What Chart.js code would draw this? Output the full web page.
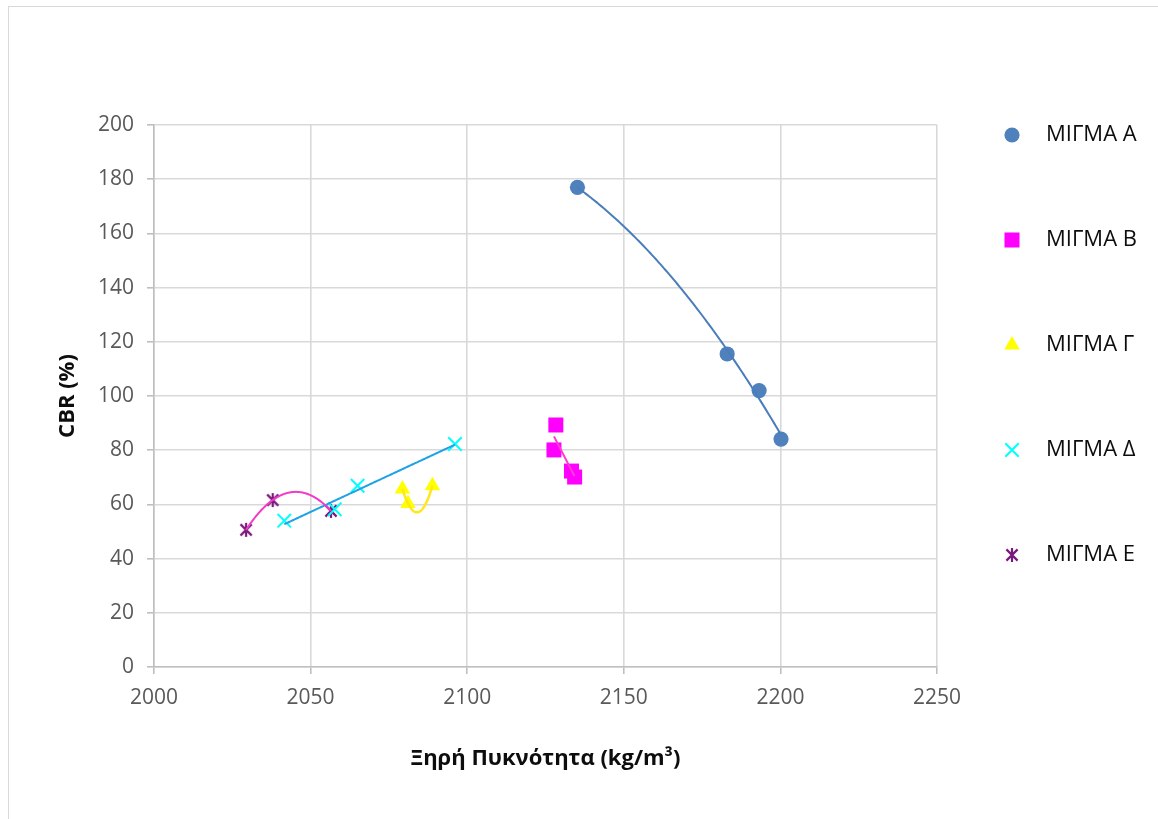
<!DOCTYPE html>
<html>
<head>
<meta charset="utf-8">
<title>CBR – Ξηρή Πυκνότητα</title>
<script src="https://cdn.jsdelivr.net/npm/chart.js@4/dist/chart.umd.min.js"></script>
<style>
  html, body { margin: 0; padding: 0; background: #ffffff; overflow: hidden; }
  #wrap { position: relative; width: 1158px; height: 819px; }
  #frame { position: absolute; left: 8px; top: 6px; width: 1200px; height: 900px;
           border: 1.5px solid #D9D9D9; box-sizing: border-box; }
  #c { position: absolute; left: 0; top: 0; }
</style>
</head>
<body>
<div id="wrap">
  <div id="frame"></div>
  <canvas id="c" width="1158" height="819"></canvas>
</div>
<script>
// ---- data -------------------------------------------------------------
const seriesNames = ['ΜΙΓΜΑ Α', 'ΜΙΓΜΑ Β', 'ΜΙΓΜΑ Γ', 'ΜΙΓΜΑ Δ', 'ΜΙΓΜΑ Ε'];

const densityA = [2135.2, 2183.0, 2193.2, 2200.2];
const cbrA     = [177.0, 115.5, 102.0, 84.1];

const densityB = [2128.3, 2127.7, 2133.3, 2134.3];
const cbrB     = [89.3, 80.1, 72.3, 70.1];

const densityG = [2079.3, 2081.1, 2088.9];
const cbrG     = [65.7, 60.3, 66.9];

const densityD = [2041.6, 2057.7, 2065.0, 2096.1];
const cbrD     = [54.0, 58.2, 66.9, 82.3];

const densityE = [2029.4, 2037.9, 2056.5];
const cbrE     = [50.6, 61.6, 57.6];

const xTicks = [2000, 2050, 2100, 2150, 2200, 2250];
const yTicks = [0, 20, 40, 60, 80, 100, 120, 140, 160, 180, 200];

// order of the fitted trend curve for each mix (1 = linear, 2 = quadratic)
const trendOrders = [2, 1, 2, 1, 2];

// ---- helpers ----------------------------------------------------------
const FONT = "'Open Sans', 'Noto Sans', 'DejaVu Sans', sans-serif";

function pairs(xs, ys) { return xs.map((x, i) => ({ x: x, y: ys[i] })); }

// "*"-shaped marker: an X with a vertical bar
function asteriskMarker(color, size) {
  const c = document.createElement('canvas');
  c.width = size; c.height = size;
  const g = c.getContext('2d');
  const h = size / 2, d = size / 2 - 2.4, v = size / 2 - 1;
  g.strokeStyle = color; g.lineWidth = 2.2; g.lineCap = 'butt';
  g.beginPath();
  g.moveTo(h - d, h - d); g.lineTo(h + d, h + d);
  g.moveTo(h + d, h - d); g.lineTo(h - d, h + d);
  g.moveTo(h, h - v); g.lineTo(h, h + v);
  g.stroke();
  return c;
}

// least-squares polynomial fit, returns coefficients in powers of (x - x0)
function polyFit(xs, ys, order) {
  const x0 = xs.reduce((a, b) => a + b, 0) / xs.length;
  const n = order + 1;
  const A = Array.from({ length: n }, () => new Array(n + 1).fill(0));
  xs.forEach((xv, k) => {
    const u = xv - x0;
    for (let r = 0; r < n; r++) {
      for (let c = 0; c < n; c++) A[r][c] += Math.pow(u, r + c);
      A[r][n] += ys[k] * Math.pow(u, r);
    }
  });
  for (let i = 0; i < n; i++) {
    let p = i;
    for (let r = i + 1; r < n; r++) if (Math.abs(A[r][i]) > Math.abs(A[p][i])) p = r;
    [A[i], A[p]] = [A[p], A[i]];
    for (let r = 0; r < n; r++) {
      if (r === i) continue;
      const f = A[r][i] / A[i][i];
      for (let c = i; c <= n; c++) A[r][c] -= f * A[i][c];
    }
  }
  const coef = A.map((row, i) => row[n] / row[i]);
  return { x0: x0, coef: coef };
}
function polyEval(fit, xv) {
  const u = xv - fit.x0;
  return fit.coef.reduce((s, c, i) => s + c * Math.pow(u, i), 0);
}

// trend curves drawn over the markers, across each mix's density range
const trendPlugin = {
  id: 'trendCurves',
  afterDatasetsDraw(chart) {
    const { ctx, chartArea, scales } = chart;
    chart.data.datasets.forEach(ds => {
      const t = ds.trend;
      if (!t) return;
      const xs = ds.data.map(p => p.x), ys = ds.data.map(p => p.y);
      const fit = polyFit(xs, ys, t.order);
      const lo = Math.min(...xs), hi = Math.max(...xs);
      const steps = 120;
      ctx.save();
      ctx.beginPath();
      ctx.rect(chartArea.left, chartArea.top, chartArea.width, chartArea.height);
      ctx.clip();
      ctx.beginPath();
      for (let k = 0; k <= steps; k++) {
        const xv = lo + (hi - lo) * k / steps;
        const px = scales.x.getPixelForValue(xv);
        const py = scales.y.getPixelForValue(polyEval(fit, xv));
        if (k === 0) ctx.moveTo(px, py); else ctx.lineTo(px, py);
      }
      ctx.strokeStyle = t.color;
      ctx.lineWidth = t.width;
      ctx.lineJoin = 'round';
      ctx.stroke();
      ctx.restore();
    });
  }
};

// key at the right-hand side: one marker + name per mix
const keyPlugin = {
  id: 'seriesKey',
  afterDraw(chart, args, opts) {
    const ctx = chart.ctx;
    chart.data.datasets.forEach((ds, i) => {
      const y = opts.top + i * opts.gap;
      ctx.save();
      ctx.fillStyle = ds.backgroundColor;
      ctx.strokeStyle = ds.borderColor;
      ctx.lineWidth = ds.borderWidth;
      Chart.helpers.drawPoint(ctx, {
        pointStyle: ds.pointStyle, radius: ds.pointRadius, rotation: 0, borderWidth: ds.borderWidth
      }, opts.markerX, y);
      ctx.fillStyle = opts.color;
      ctx.font = opts.font;
      ctx.textAlign = 'left';
      ctx.textBaseline = 'middle';
      ctx.fillText(ds.label, opts.textX, y);
      ctx.restore();
    });
  }
};

// ---- chart ------------------------------------------------------------
const markerE = asteriskMarker('#7A1A7C', 16);

const datasets = [
  { label: seriesNames[0], data: pairs(densityA, cbrA), pointStyle: 'circle', pointRadius: 7.6,
    backgroundColor: '#4F81BD', borderColor: '#4F81BD', borderWidth: 0,
    trend: { order: trendOrders[0], color: '#4A7EBB', width: 2 } },
  { label: seriesNames[1], data: pairs(densityB, cbrB), pointStyle: 'rect', pointRadius: 10.6,
    backgroundColor: '#FF00FF', borderColor: '#FF00FF', borderWidth: 0,
    trend: { order: trendOrders[1], color: '#FF3BD0', width: 2 } },
  { label: seriesNames[2], data: pairs(densityG, cbrG), pointStyle: 'triangle', pointRadius: 9,
    backgroundColor: '#FFFF00', borderColor: '#FFFF00', borderWidth: 0,
    trend: { order: trendOrders[2], color: '#FFE81A', width: 2.5 } },
  { label: seriesNames[3], data: pairs(densityD, cbrD), pointStyle: 'crossRot', pointRadius: 9.5,
    backgroundColor: '#00FFFF', borderColor: '#00FFFF', borderWidth: 2,
    trend: { order: trendOrders[3], color: '#1EA2E6', width: 2 } },
  { label: seriesNames[4], data: pairs(densityE, cbrE), pointStyle: markerE, pointRadius: 8,
    backgroundColor: '#7A1A7C', borderColor: '#7A1A7C', borderWidth: 0,
    trend: { order: trendOrders[4], color: '#F23CC8', width: 2 } }
];
datasets.forEach(ds => { ds.pointHoverRadius = ds.pointRadius; ds.showLine = false; });

const gridColor = '#D9D9D9';
const tickFont = { family: FONT, size: 21 };
const titleFont = { family: FONT, size: 22, weight: 'bold' };

new Chart(document.getElementById('c'), {
  type: 'scatter',
  data: { datasets: datasets },
  options: {
    responsive: false,
    animation: false,
    events: [],
    layout: { padding: { top: 125, right: 221, bottom: 0, left: 0 } },
    plugins: {
      legend: { display: false },
      tooltip: { enabled: false },
      seriesKey: { markerX: 1012, textX: 1046, top: 135, gap: 105,
                   color: '#0D0D0D', font: "22px " + FONT }
    },
    scales: {
      x: {
        type: 'linear', min: xTicks[0], max: xTicks[xTicks.length - 1],
        afterBuildTicks: s => { s.ticks = xTicks.map(v => ({ value: v })); },
        afterFit: s => { s.height = 152; },
        ticks: { color: '#595959', font: tickFont, padding: 11, maxRotation: 0,
                 callback: v => String(v) },
        grid: { color: gridColor, lineWidth: 1.6, tickLength: 7, tickColor: '#BFBFBF' },
        border: { color: '#BFBFBF', width: 1.6 },
        title: { display: true, text: 'Ξηρή Πυκνότητα (kg/m³)', color: '#0D0D0D',
                 font: titleFont, padding: { top: 0, bottom: 47 } }
      },
      y: {
        type: 'linear', min: yTicks[0], max: yTicks[yTicks.length - 1],
        afterBuildTicks: s => { s.ticks = yTicks.map(v => ({ value: v })); },
        afterFit: s => { s.width = 154; },
        ticks: { color: '#595959', font: tickFont, padding: 13, callback: v => String(v) },
        grid: { color: gridColor, lineWidth: 1.6, tickLength: 7, tickColor: '#BFBFBF' },
        border: { color: '#BFBFBF', width: 1.6 },
        title: { display: true, text: 'CBR (%)', color: '#0D0D0D',
                 font: titleFont, padding: { top: 55, bottom: 0 } }
      }
    }
  },
  plugins: [trendPlugin, keyPlugin]
});
</script>
</body>
</html>
